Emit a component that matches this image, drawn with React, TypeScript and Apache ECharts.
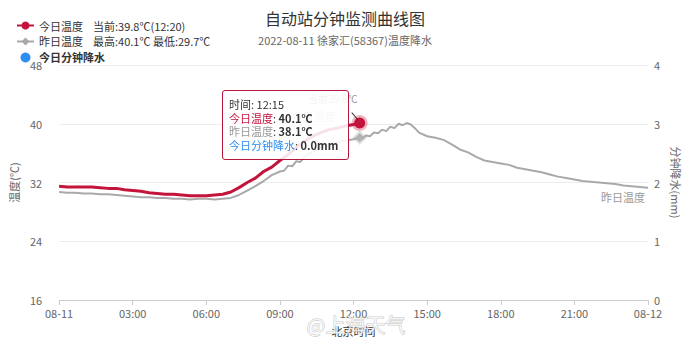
import React, { useEffect, useRef } from "react";
import * as echarts from "echarts";

const titleText = "自动站分钟监测曲线图";
const subtitleText = "2022-08-11 徐家汇(58367)温度降水";
const xTickLabels = ["08-11", "03:00", "06:00", "09:00", "12:00", "15:00", "18:00", "21:00", "08-12"];
const todayName = "今日温度";
const yesterdayName = "昨日温度";
const rainName = "今日分钟降水";
const todayNote = "当前:39.8℃(12:20)";
const yesterdayNote = "最高:40.1℃ 最低:29.7℃";
const currentLabel = "当前39.8℃";
const tipTime = "12:15";
const watermarkText = "@上海天气";

const todayTimes = [
  "00:00", "00:20", "00:40", "01:00", "01:20", "01:40", "02:00", "02:20", "02:40",
  "03:00", "03:20", "03:40", "04:00", "04:20", "04:40", "05:00", "05:20", "05:40",
  "06:00", "06:20", "06:40", "07:00", "07:20", "07:40", "08:00", "08:20", "08:40",
  "09:00", "09:20", "09:40", "10:00", "10:20", "10:40", "11:00", "11:20", "11:40",
  "12:00", "12:15", "12:20",
];
const todayTemp = [
  31.5, 31.4, 31.4, 31.4, 31.4, 31.3, 31.2, 31.2, 31.0,
  30.9, 30.8, 30.6, 30.5, 30.4, 30.4, 30.3, 30.2, 30.2,
  30.2, 30.3, 30.4, 30.7, 31.3, 32.0, 32.6, 33.5, 34.1,
  35.0, 35.8, 36.8, 37.6, 38.3, 38.8, 39.2, 39.4, 39.7,
  39.9, 40.1, 39.8,
];
const todayRain = [
  0, 0, 0, 0, 0, 0, 0, 0, 0,
  0, 0, 0, 0, 0, 0, 0, 0, 0,
  0, 0, 0, 0, 0, 0, 0, 0, 0,
  0, 0, 0, 0, 0, 0, 0, 0, 0,
  0, 0, 0,
];
const yesterdayTimes = [
  "00:00", "00:20", "00:40", "01:00", "01:20", "01:40", "02:00", "02:20", "02:40",
  "03:00", "03:20", "03:40", "04:00", "04:20", "04:40", "05:00", "05:20", "05:40",
  "06:00", "06:20", "06:40", "07:00", "07:20", "07:40", "08:00", "08:20", "08:40",
  "09:00", "09:10", "09:20", "09:30", "09:40", "09:50", "10:00", "10:20", "10:40",
  "11:00", "11:20", "11:40", "12:00", "12:15", "12:20", "12:30", "12:40", "12:50",
  "13:00", "13:10", "13:20", "13:30", "13:40", "13:50", "14:00", "14:10", "14:20",
  "14:30", "14:40", "15:00", "15:20", "15:40", "16:00", "16:20", "16:40", "17:00",
  "17:20", "17:40", "18:00", "18:20", "18:40", "19:00", "19:20", "19:40", "20:00",
  "20:20", "20:40", "21:00", "21:20", "21:40", "22:00", "22:20", "22:40", "23:00",
  "23:20", "23:40", "24:00",
];
const yesterdayTemp = [
  30.7, 30.6, 30.6, 30.5, 30.5, 30.4, 30.4, 30.3, 30.2,
  30.1, 30.0, 30.0, 29.9, 29.9, 29.8, 29.8, 29.7, 29.8,
  29.8, 29.7, 29.8, 29.9, 30.3, 30.9, 31.5, 32.2, 33.0,
  33.5, 33.6, 34.3, 34.2, 34.9, 34.8, 35.5, 36.2, 36.8,
  37.1, 37.5, 37.7, 37.9, 38.1, 37.9, 38.4, 38.3, 38.8,
  38.7, 39.2, 39.0, 39.6, 39.4, 40.0, 39.8, 40.1, 39.9,
  39.4, 38.8, 38.3, 38.1, 37.8, 37.2, 36.5, 36.1, 35.5,
  35.0, 34.8, 34.6, 34.4, 34.0, 33.8, 33.6, 33.4, 33.1,
  32.8, 32.6, 32.4, 32.2, 32.1, 32.0, 31.9, 31.8, 31.6,
  31.5, 31.4, 31.3,
];

const FONT = "'Noto Sans CJK SC', 'Noto Sans', sans-serif";
const RED = "#c4143c";
const GRAY = "#a9a9a9";
const BLUE = "#2b8ef0";

const toH = (t: string) => {
  const [h, m] = t.split(":").map(Number);
  return h + m / 60;
};

export default function App() {
  const ref = useRef<HTMLDivElement>(null);
  useEffect(() => {
    document.body.style.margin = "0";
    if (!ref.current) return;
    const chart = echarts.init(ref.current, undefined, { renderer: "svg" });
    const todayData = todayTimes.map((t, i) => [toH(t), todayTemp[i]]);
    const yData = yesterdayTimes.map((t, i) => [toH(t), yesterdayTemp[i]]);
    const rainData = todayTimes.map((t, i) => [toH(t), todayRain[i]]);
    const ti = todayTimes.indexOf(tipTime);
    const yi = yesterdayTimes.indexOf(tipTime);
    const last = todayData.length - 1;

    const option: any = {
      animation: false,
      textStyle: { fontFamily: FONT },
      title: {
        text: titleText,
        subtext: subtitleText,
        left: "center",
        top: 5,
        itemGap: 9,
        textStyle: { fontSize: 16, fontWeight: "normal", color: "#333", fontFamily: FONT },
        subtextStyle: { fontSize: 11, color: "#666", fontFamily: FONT },
      },
      legend: {
        orient: "vertical",
        left: 11,
        top: 15,
        itemWidth: 17,
        itemHeight: 10,
        itemGap: 5,
        textStyle: {
          fontSize: 11,
          color: "#333",
          fontFamily: FONT,
          rich: {
            n: { fontSize: 11, color: "#333", fontFamily: FONT },
            v: { fontSize: 11, color: "#333", fontFamily: FONT, padding: [0, 0, 0, 10] },
          },
        },
        formatter: (name: string) => {
          if (name === todayName) return `{n|${name}}{v|${todayNote}}`;
          if (name === yesterdayName) return `{n|${name}}{v|${yesterdayNote}}`;
          return name;
        },
        data: [
          { name: todayName },
          { name: yesterdayName },
          { name: rainName, icon: "circle", textStyle: { fontWeight: "bold", fontSize: 11 } },
        ],
      },
      grid: { left: 54, right: 36, top: 65, bottom: 45 },
      tooltip: {
        trigger: "axis",
        triggerOn: "none",
        alwaysShowContent: true,
        axisPointer: { type: "none" },
        transitionDuration: 0,
        position: [222, 90],
        backgroundColor: "rgba(255,255,255,0.88)",
        borderColor: "#b5173c",
        borderWidth: 1,
        padding: [7, 13, 7, 6],
        extraCssText: "box-shadow:none;border-radius:3px;width:106px;",
        formatter: () =>
          `<div style="font-family:${FONT};font-size:11px;line-height:13.5px;color:#333;white-space:nowrap">` +
          `时间: ${tipTime}<br/>` +
          `<span style="color:${RED}">${todayName}</span>: <b>${todayTemp[ti].toFixed(1)}℃</b><br/>` +
          `<span style="color:#999">${yesterdayName}</span>: <b>${yesterdayTemp[yi].toFixed(1)}℃</b><br/>` +
          `<span style="color:${BLUE}">${rainName}</span>: <b>${todayRain[ti].toFixed(1)}mm</b>` +
          `</div>`,
      },
      xAxis: {
        type: "value",
        min: 0,
        max: 24,
        interval: 3,
        name: "北京时间",
        nameLocation: "middle",
        nameGap: 25,
        nameTextStyle: { color: "#333", fontSize: 11, fontFamily: FONT },
        axisLine: { lineStyle: { color: "#ccc" } },
        axisTick: { show: true, length: 5, lineStyle: { color: "#ccc" } },
        axisLabel: {
          color: "#666",
          fontSize: 11,
          margin: 7,
          fontFamily: FONT,
          formatter: (v: number) => xTickLabels[Math.round(v / 3)] ?? "",
        },
        splitLine: { show: false },
      },
      yAxis: [
        {
          type: "value",
          min: 16,
          max: 48,
          interval: 8,
          name: "温度(℃)",
          nameLocation: "middle",
          nameGap: 36,
          nameTextStyle: { color: "#666", fontSize: 11, fontFamily: FONT },
          axisLine: { show: false },
          axisTick: { show: false },
          axisLabel: { color: "#666", fontSize: 11, margin: 17, fontFamily: FONT },
          splitLine: { lineStyle: { color: "#ececec" } },
        },
        {
          type: "value",
          min: 0,
          max: 4,
          interval: 1,
          name: "分钟降水(mm)",
          nameLocation: "middle",
          nameGap: 20,
          nameRotate: -90,
          nameTextStyle: { color: "#666", fontSize: 11, fontFamily: FONT },
          axisLine: { show: false },
          axisTick: { show: false },
          axisLabel: { color: "#666", fontSize: 11, margin: 6, fontFamily: FONT },
          splitLine: { show: false },
        },
      ],
      series: [
        {
          name: todayName,
          type: "line",
          data: todayData,
          yAxisIndex: 0,
          symbol: "circle",
          symbolSize: 7,
          showSymbol: false,
          color: RED,
          lineStyle: { width: 3, color: RED },
          emphasis: { disabled: true },
          z: 4,
          endLabel: {
            show: true,
            formatter: todayName,
            color: "#bbb",
            fontSize: 11,
            fontFamily: FONT,
            align: "right",
            offset: [-34, -9],
          },
          markPoint: {
            silent: true,
            animation: false,
            data: [
              {
                coord: todayData[ti],
                symbol: "circle",
                symbolSize: 11,
                itemStyle: { color: RED, borderColor: "rgba(196,20,60,0.3)", borderWidth: 5 },
                label: { show: false },
              },
              {
                coord: todayData[last],
                symbol: "path://M0,0L6,7",
                symbolSize: [6, 7],
                symbolOffset: [-7, -9],
                itemStyle: { color: "none", borderColor: "#333", borderWidth: 1 },
                label: {
                  show: true,
                  formatter: currentLabel,
                  position: "top",
                  offset: [-22, -2],
                  color: "#999",
                  fontSize: 10,
                  fontFamily: FONT,
                },
              },
            ],
          },
        },
        {
          name: yesterdayName,
          type: "line",
          data: yData,
          yAxisIndex: 0,
          symbol: "diamond",
          symbolSize: 7,
          showSymbol: false,
          color: GRAY,
          lineStyle: { width: 2, color: GRAY },
          emphasis: { disabled: true },
          z: 3,
          endLabel: {
            show: true,
            formatter: yesterdayName,
            color: "#999",
            fontSize: 11,
            fontFamily: FONT,
            align: "right",
            offset: [-11, 9],
          },
          markPoint: {
            silent: true,
            animation: false,
            data: [
              {
                coord: yData[yi],
                symbol: "diamond",
                symbolSize: 9,
                itemStyle: { color: "#b5b5b5", borderColor: "rgba(170,170,170,0.35)", borderWidth: 4 },
                label: { show: false },
              },
            ],
          },
        },
        {
          name: rainName,
          type: "bar",
          data: rainData,
          yAxisIndex: 1,
          color: BLUE,
          barWidth: 1,
        },
      ],
      graphic: [
        {
          type: "text",
          left: 306,
          top: 314,
          z: 100,
          style: {
            text: watermarkText,
            fontSize: 20,
            fontFamily: FONT,
            fill: "rgba(255,255,255,0.8)",
            stroke: "rgba(150,150,150,0.55)",
            lineWidth: 1,
          },
        },
      ],
    };
    chart.setOption(option);
    chart.dispatchAction({ type: "showTip", seriesIndex: 0, dataIndex: ti });
    return () => chart.dispose();
  }, []);
  return <div ref={ref} style={{ width: 690, height: 345 }} />;
}
